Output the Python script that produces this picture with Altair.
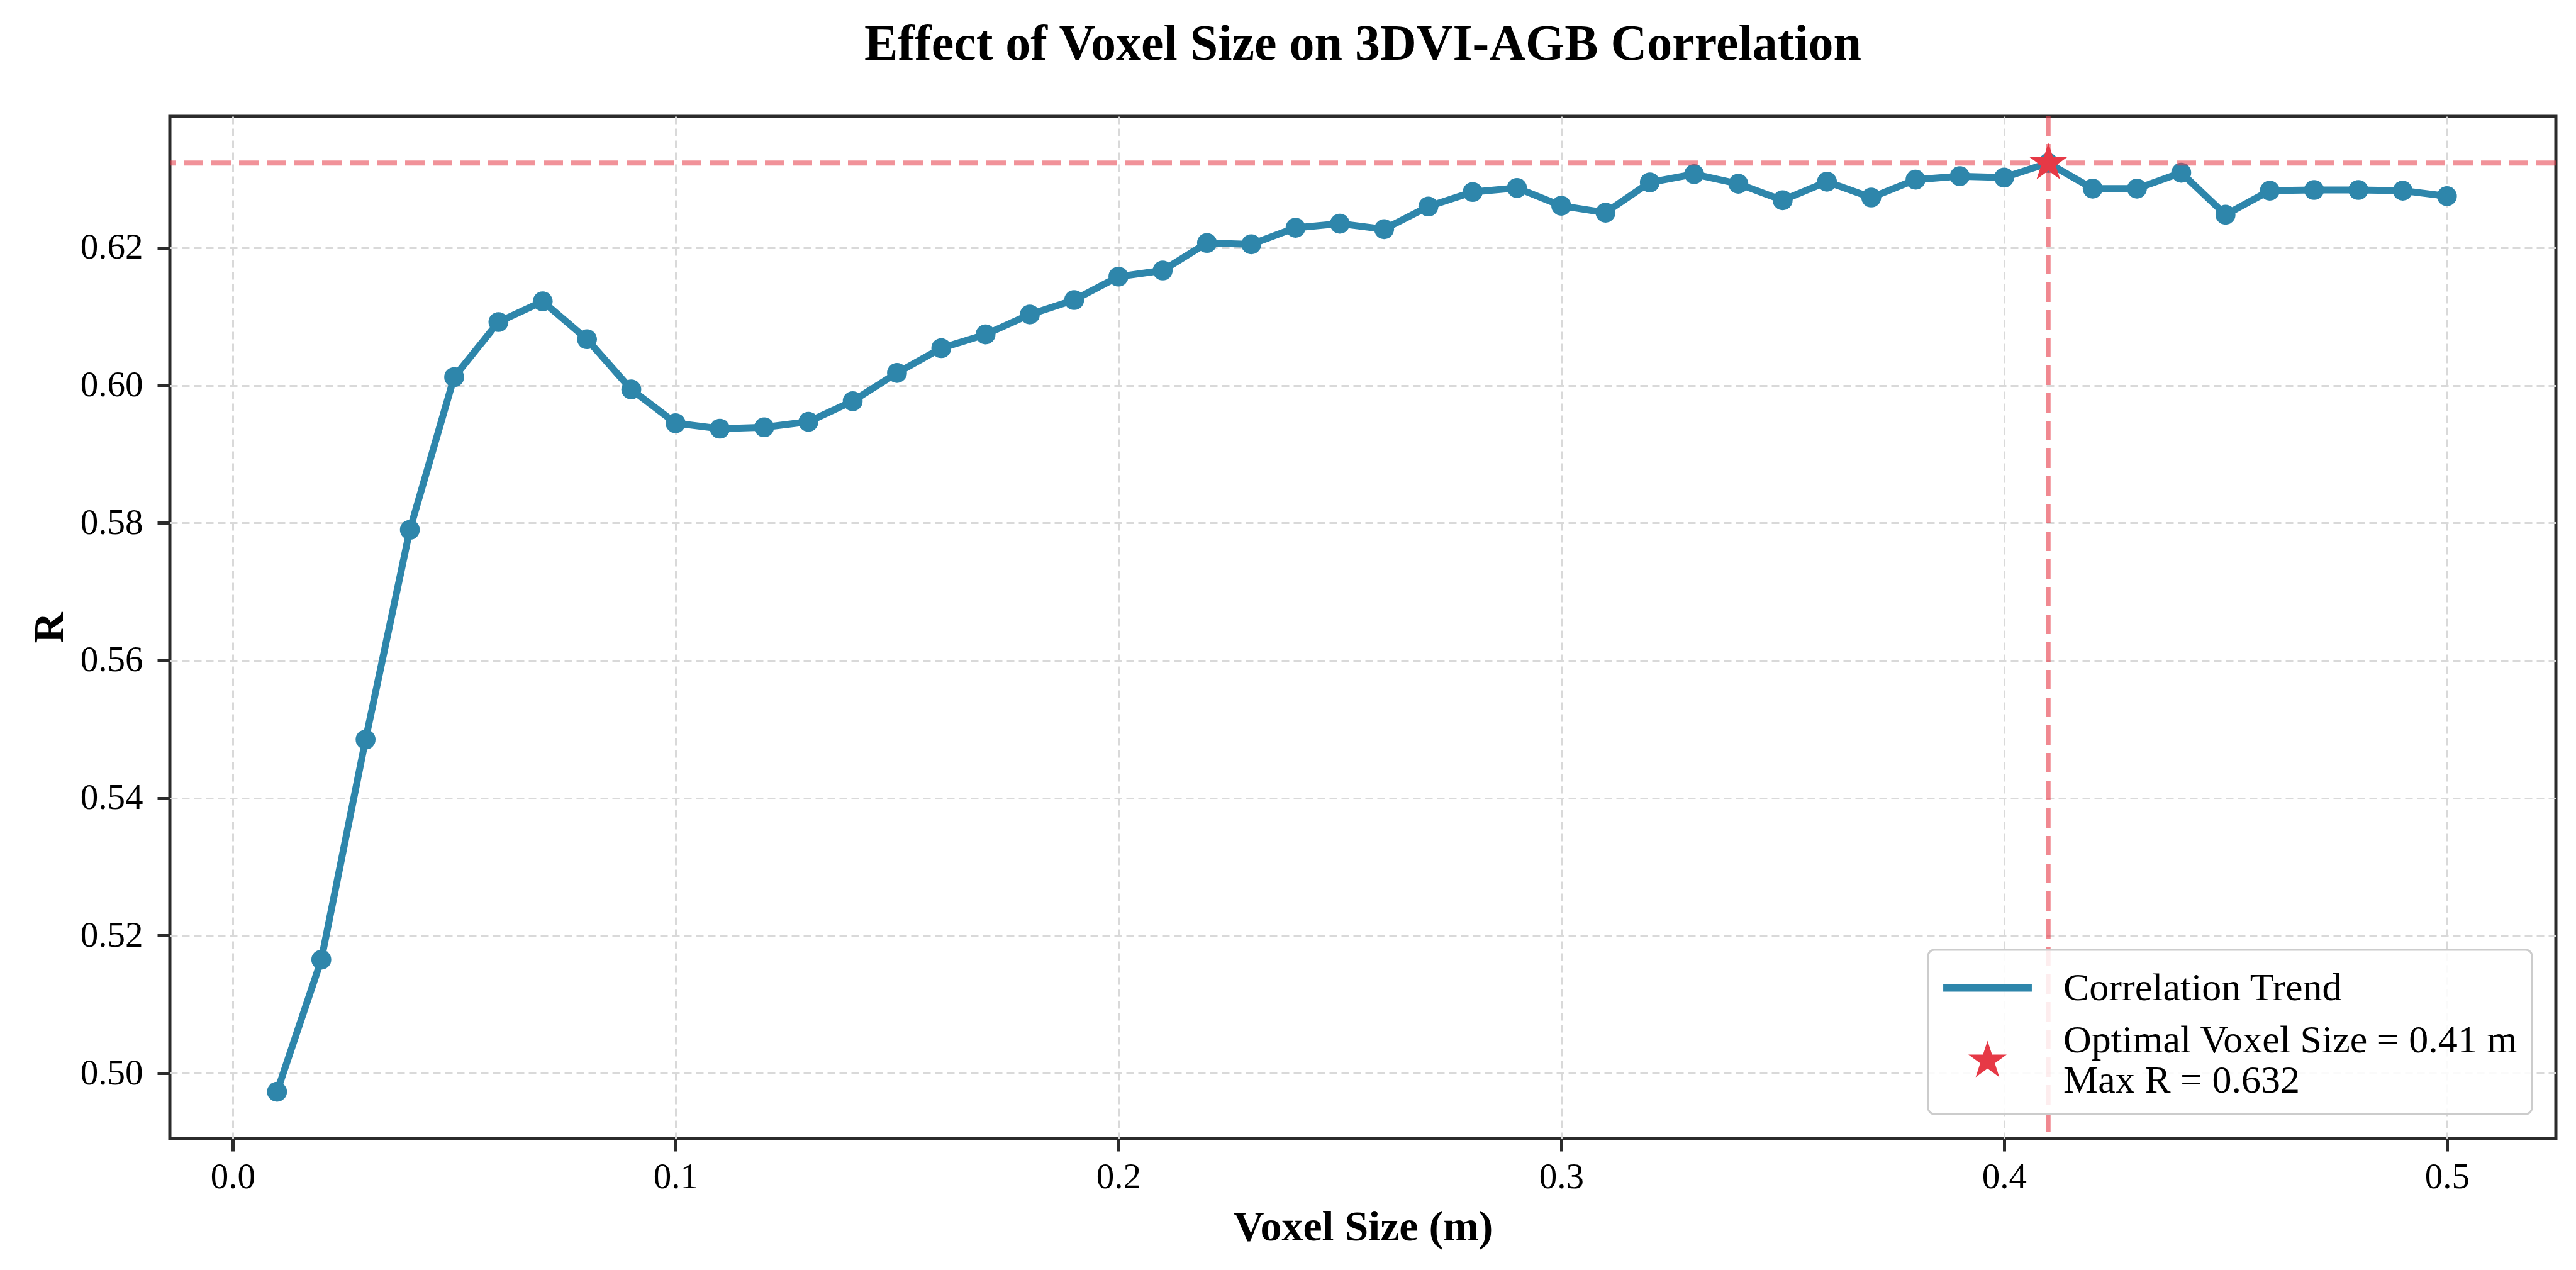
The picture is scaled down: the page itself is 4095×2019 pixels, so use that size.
import json
import altair as alt
import pandas as pd

# ---------------- data ----------------
voxel_size = [0.01, 0.02, 0.03, 0.04, 0.05, 0.06, 0.07, 0.08, 0.09, 0.10,
              0.11, 0.12, 0.13, 0.14, 0.15, 0.16, 0.17, 0.18, 0.19, 0.20,
              0.21, 0.22, 0.23, 0.24, 0.25, 0.26, 0.27, 0.28, 0.29, 0.30,
              0.31, 0.32, 0.33, 0.34, 0.35, 0.36, 0.37, 0.38, 0.39, 0.40,
              0.41, 0.42, 0.43, 0.44, 0.45, 0.46, 0.47, 0.48, 0.49, 0.50]
r_values = [0.4973, 0.5165, 0.5485, 0.5790, 0.6012, 0.6092, 0.6122, 0.6067, 0.5994, 0.5945,
            0.5937, 0.5939, 0.5947, 0.5977, 0.6018, 0.6054, 0.6074, 0.6103, 0.6124, 0.6158,
            0.6167, 0.6207, 0.6205, 0.6229, 0.6235, 0.6227, 0.6260, 0.6281, 0.6287, 0.6261,
            0.6251, 0.6295, 0.6307, 0.6293, 0.6269, 0.6296, 0.6273, 0.6299, 0.6304, 0.6302,
            0.6323, 0.6286, 0.6286, 0.6309, 0.6248, 0.6283, 0.6284, 0.6284, 0.6283, 0.6275]
x_ticks = [0.0, 0.1, 0.2, 0.3, 0.4, 0.5]
y_ticks = [0.50, 0.52, 0.54, 0.56, 0.58, 0.60, 0.62]
series_names = ["Correlation Trend", "Optimal"]
title_text = "Effect of Voxel Size on 3DVI-AGB Correlation"
x_title = "Voxel Size (m)"
y_title = "R"

best_i = max(range(len(r_values)), key=lambda i: r_values[i])
best_x = voxel_size[best_i]
best_r = r_values[best_i]
label_lines = [f"Optimal Voxel Size = {best_x:.2f} m", f"Max R = {best_r:.3f}"]

df = pd.DataFrame({"voxel": voxel_size, "r": r_values})
best_df = pd.DataFrame({"voxel": [best_x], "r": [best_r], "series": [series_names[1]]})

# ---------------- style ----------------
BLUE = "#2E86AB"
RED = "#E63946"
FONT = "Liberation Serif"
FRAME = "#2b2b2b"
STAR_PATH = ("M0,-1L0.2245,-0.309L0.9511,-0.309L0.3633,0.118L0.5878,0.809L0,0.382"
             "L-0.5878,0.809L-0.3633,0.118L-0.9511,-0.309L-0.2245,-0.309Z")
LINE_PATH = "M-2.2,0H2.2"

x_scale = alt.Scale(domain=[-0.0142, 0.5246], nice=False, zero=False)
y_scale = alt.Scale(domain=[0.4905, 0.6391], nice=False, zero=False)

x_enc = alt.X("voxel:Q", scale=x_scale,
              axis=alt.Axis(values=x_ticks, format=".1f", title=x_title,
                            labelPadding=13, titlePadding=18))
y_enc = alt.Y("r:Q", scale=y_scale,
              axis=alt.Axis(values=y_ticks, format=".2f", title=y_title,
                            labelPadding=23, titlePadding=14))

line = alt.Chart(df).mark_line(color=BLUE, strokeWidth=11).encode(x=x_enc, y=y_enc)
dots = alt.Chart(df).mark_point(filled=True, color=BLUE, size=1000, opacity=1,
                                shape="circle").encode(x=x_enc, y=y_enc)

hline = alt.Chart(best_df).mark_rule(color=RED, opacity=0.55, strokeWidth=8,
                                     strokeDash=[31, 13]).encode(y=y_enc)
vline = alt.Chart(best_df).mark_rule(color=RED, opacity=0.6, strokeWidth=7,
                                     strokeDash=[31, 13]).encode(x=x_enc)

label_expr = f"datum.value == '{series_names[1]}' ? {json.dumps(label_lines)} : datum.label"
baseline_expr = f"datum.value == '{series_names[1]}' ? 'line-bottom' : 'middle'"
legend = alt.Legend(title=None, orient="none", legendX=2795, legendY=1325,
                    labelExpr=label_expr, labelFont=FONT, labelFontSize=62,
                    labelColor="black", labelLimit=3000,
                    labelBaseline=alt.ExprRef(expr=baseline_expr),
                    symbolSize=4100, symbolStrokeWidth=12, symbolOffset=34,
                    labelOffset=82, rowPadding=20, padding=22,
                    fillColor="rgba(255,255,255,0.85)", strokeColor="#cccccc",
                    cornerRadius=10)

star = alt.Chart(best_df).mark_point(filled=True, size=4100, opacity=1).encode(
    x=x_enc, y=y_enc,
    fill=alt.Fill("series:N", scale=alt.Scale(domain=series_names, range=[BLUE, RED]),
                  legend=legend),
    stroke=alt.Stroke("series:N", scale=alt.Scale(domain=series_names,
                                                  range=[BLUE, "transparent"]),
                      legend=legend),
    shape=alt.Shape("series:N", scale=alt.Scale(domain=series_names,
                                                range=[LINE_PATH, STAR_PATH]),
                    legend=legend),
)

chart = alt.layer(line, dots, hline, vline, star).properties(
    width=3793, height=1625,
    title=alt.Title(title_text, font=FONT, fontSize=80, fontWeight="bold",
                    anchor="middle", offset=70, color="black"),
    padding={"left": 262, "top": 177, "right": 24, "bottom": 201},
    autosize=alt.AutoSizeParams(type="none"),
    background="white",
).configure_axis(
    labelFont=FONT, labelFontSize=57, labelColor="black",
    titleFont=FONT, titleFontSize=68, titleFontWeight="bold", titleColor="black",
    tickColor=FRAME, tickWidth=5, tickSize=20, domain=False,
    gridColor="#d9d9d9", gridWidth=3, gridDash=[12, 7],
).configure_view(
    stroke=FRAME, strokeWidth=5,
).configure_legend(
    strokeWidth=3,
)

chart.save("out.html", embed_options={"renderer": "svg", "actions": False})
